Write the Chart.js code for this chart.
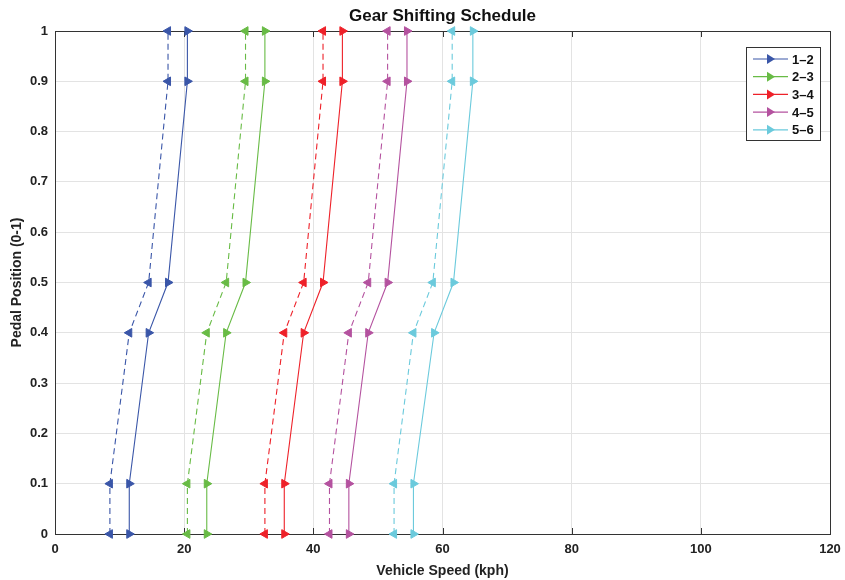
<!DOCTYPE html>
<html>
<head>
<meta charset="utf-8">
<script src="https://cdn.jsdelivr.net/npm/chart.js@4.4.1/dist/chart.umd.min.js"></script>
<style>
  html, body { margin: 0; padding: 0; background: #fff; }
  #wrap { width: 845px; height: 580px; }
</style>
</head>
<body>
<div id="wrap"><canvas id="myChart" width="845" height="580"></canvas></div>
<script>
// pedal positions shared by all shift lines
const pedal = [0, 0.1, 0.4, 0.5, 0.9, 1]

// upshift speeds (kph), solid lines
const up12 = [11.5, 11.5, 14.5, 17.5, 20.5, 20.5]
const up23 = [23.5, 23.5, 26.5, 29.5, 32.5, 32.5]
const up34 = [35.5, 35.5, 38.5, 41.5, 44.5, 44.5]
const up45 = [45.5, 45.5, 48.5, 51.5, 54.5, 54.5]
const up56 = [55.5, 55.5, 58.7, 61.7, 64.7, 64.7]

// downshift speeds (kph), dashed lines
const down21 = [8.5, 8.5, 11.5, 14.5, 17.5, 17.5]
const down32 = [20.5, 20.5, 23.5, 26.5, 29.5, 29.5]
const down43 = [32.5, 32.5, 35.5, 38.5, 41.5, 41.5]
const down54 = [42.5, 42.5, 45.5, 48.5, 51.5, 51.5]
const down65 = [52.5, 52.5, 55.5, 58.5, 61.5, 61.5]

const titulo = 'Gear Shifting Schedule'
const shiftLabels = ['1\u20132', '2\u20133', '3\u20134', '4\u20135', '5\u20136']
const colores = ['#3a56a8', '#68bb45', '#ee2129', '#b4529f', '#6bcadc']
const upLines = [up12, up23, up34, up45, up56]
const downLines = [down21, down32, down43, down54, down65]

const xTicks = [0, 20, 40, 60, 80, 100, 120]
const yTicks = [0, 0.1, 0.2, 0.3, 0.4, 0.5, 0.6, 0.7, 0.8, 0.9, 1]

const puntos = (speeds) => speeds.map((v, i) => ({ x: v, y: pedal[i] }))

let datasets = []
upLines.forEach((line, i) => {
    datasets.push({
        label: shiftLabels[i],
        data: puntos(line),
        borderColor: colores[i],
        backgroundColor: colores[i],
        borderWidth: 1.1,
        pointStyle: 'triangle',
        pointRotation: 90,
        pointRadius: 5,
        pointBorderWidth: 1,
        clip: false,
        enLeyenda: true
    })
})
downLines.forEach((line, i) => {
    datasets.push({
        label: shiftLabels[i] + ' down',
        data: puntos(line),
        borderColor: colores[i],
        backgroundColor: colores[i],
        borderWidth: 1.1,
        borderDash: [6, 4],
        pointStyle: 'triangle',
        pointRotation: -90,
        pointRadius: 5,
        pointBorderWidth: 1,
        clip: false,
        enLeyenda: false
    })
})

const fuente = 'Liberation Sans, Arial, sans-serif'

// MATLAB style box with inward ticks, title centred over the axes
const cajaPlugin = {
    id: 'caja',
    beforeDatasetsDraw(chart) {
        const { ctx, chartArea: a, scales } = chart
        ctx.save()
        ctx.strokeStyle = '#333'
        ctx.lineWidth = 1
        ctx.beginPath()
        xTicks.forEach(t => {
            const px = Math.round(scales.x.getPixelForValue(t)) + 0.5
            ctx.moveTo(px, a.bottom); ctx.lineTo(px, a.bottom - 6)
            ctx.moveTo(px, a.top); ctx.lineTo(px, a.top + 6)
        })
        ctx.stroke()
        ctx.strokeRect(Math.round(a.left) + 0.5, Math.round(a.top) + 0.5, Math.round(a.right - a.left), Math.round(a.bottom - a.top))
        ctx.fillStyle = '#111'
        ctx.font = 'bold 17px ' + fuente
        ctx.textAlign = 'center'
        ctx.textBaseline = 'middle'
        ctx.fillText(titulo, (a.left + a.right) / 2, 16)
        ctx.restore()
    }
}

const leyendaPlugin = {
    id: 'leyenda',
    afterDraw(chart) {
        const { ctx, chartArea: a } = chart
        const items = chart.data.datasets.filter(d => d.enLeyenda)
        const bx = a.right - 84, by = a.top + 16, bw = 74, bh = 93
        ctx.save()
        ctx.fillStyle = '#fff'
        ctx.fillRect(bx, by, bw, bh)
        ctx.strokeStyle = '#333'
        ctx.lineWidth = 1
        ctx.strokeRect(bx + 0.5, by + 0.5, bw, bh)
        ctx.font = 'bold 13px ' + fuente
        ctx.textBaseline = 'middle'
        items.forEach((d, i) => {
            const y = by + 12 + i * 17.7
            ctx.strokeStyle = d.borderColor
            ctx.lineWidth = 1.2
            ctx.beginPath()
            ctx.moveTo(bx + 7, y); ctx.lineTo(bx + 42, y)
            ctx.stroke()
            ctx.fillStyle = d.borderColor
            ctx.beginPath()
            ctx.moveTo(bx + 21, y - 5); ctx.lineTo(bx + 21, y + 5); ctx.lineTo(bx + 29, y)
            ctx.closePath()
            ctx.fill()
            ctx.fillStyle = '#111'
            ctx.fillText(d.label, bx + 46, y + 1)
        })
        ctx.restore()
    }
}

var ctx = document.getElementById('myChart')
var myChart = new Chart(ctx, {
    type: 'line',
    data: { datasets: datasets },
    plugins: [cajaPlugin, leyendaPlugin],
    options: {
        responsive: false,
        animation: false,
        layout: { padding: { left: 0, right: 15, top: 31, bottom: 0 } },
        plugins: {
            legend: { display: false },
            tooltip: { enabled: false },
            title: { display: false }
        },
        scales: {
            x: {
                type: 'linear',
                min: 0, max: 120,
                afterFit: (s) => { s.height = 46; s.paddingRight = 0; s.paddingLeft = 0 },
                afterBuildTicks: (s) => { s.ticks = xTicks.map(v => ({ value: v })) },
                grid: { color: '#e3e3e3', drawTicks: false },
                border: { display: false },
                ticks: { color: '#222', padding: 8, font: { family: fuente, size: 13, weight: 'bold' } },
                title: {
                    display: true, text: 'Vehicle Speed (kph)', color: '#222',
                    font: { family: fuente, size: 14, weight: 'bold' },
                    padding: { top: 0, bottom: 0 }
                }
            },
            y: {
                type: 'linear',
                min: 0, max: 1,
                afterFit: (s) => { s.width = 55; s.paddingTop = 0; s.paddingBottom = 0 },
                afterBuildTicks: (s) => { s.ticks = yTicks.map(v => ({ value: v })) },
                grid: { color: '#e3e3e3', drawTicks: false },
                border: { display: false },
                ticks: {
                    color: '#222', padding: 7,
                    font: { family: fuente, size: 13, weight: 'bold' },
                    callback: (v) => String(Math.round(v * 10) / 10)
                },
                title: {
                    display: true, text: 'Pedal Position (0-1)', color: '#222',
                    font: { family: fuente, size: 14, weight: 'bold' },
                    padding: { top: 9, bottom: 0 }
                }
            }
        }
    }
})
</script>
</body>
</html>
